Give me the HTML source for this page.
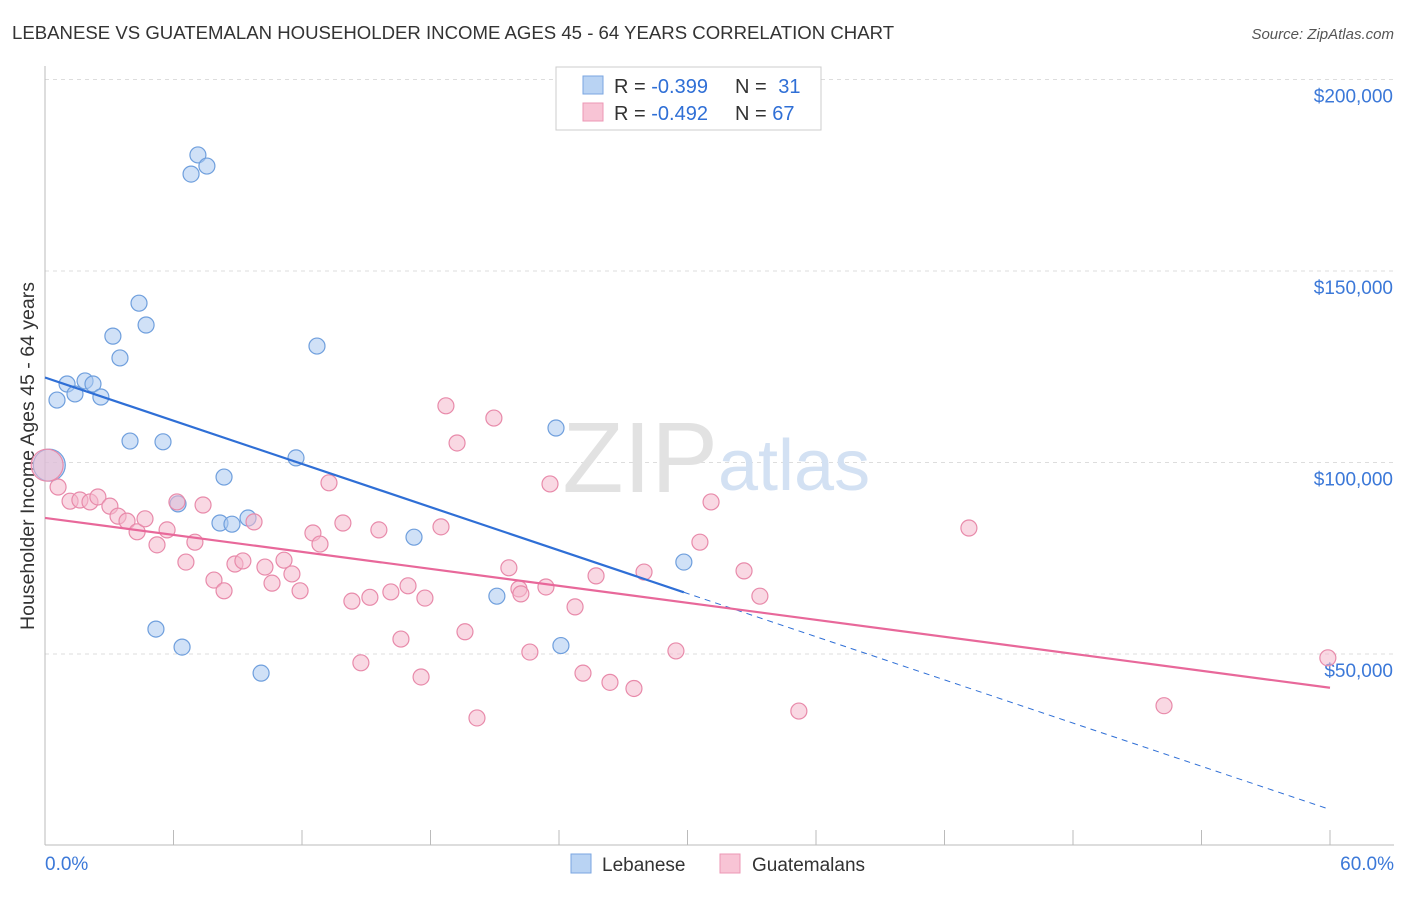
<!DOCTYPE html>
<html><head><meta charset="utf-8"><style>
body{margin:0;background:#fff;font-family:"Liberation Sans",sans-serif;}
svg text{font-family:"Liberation Sans",sans-serif;}
</style></head><body>
<svg id="chart" width="1406" height="892">
<text x="12" y="39" font-size="18.6" fill="#333">LEBANESE VS GUATEMALAN HOUSEHOLDER INCOME AGES 45 - 64 YEARS CORRELATION CHART</text>
<text x="1394" y="39" font-size="15" fill="#555" font-style="italic" text-anchor="end">Source: ZipAtlas.com</text>
<text x="0" y="0" transform="translate(34,456) rotate(-90)" font-size="19.5" fill="#333" text-anchor="middle">Householder Income Ages 45 - 64 years</text>
<g id="grid"></g>
<text x="718" y="492" font-size="100" fill="#e2e2e2" text-anchor="end" font-family="Liberation Serif">ZIP</text>
<text x="718" y="490" font-size="72" fill="#d3e1f3">atlas</text>
<g id="marks"></g>
<rect x="556" y="67" width="265" height="63" fill="#fff" stroke="#ccc"/>
<rect x="583" y="76" width="20" height="18" fill="#b9d3f3" stroke="#7aa6e0"/>
<rect x="583" y="103" width="20" height="18" fill="#f8c4d5" stroke="#ec97b5"/>
<text x="614" y="93" font-size="20" fill="#333">R = <tspan fill="#2f6fd6">-0.399</tspan></text>
<text x="735" y="93" font-size="20" fill="#333">N = <tspan fill="#2f6fd6" dx="6">31</tspan></text>
<text x="614" y="120" font-size="20" fill="#333">R = <tspan fill="#2f6fd6">-0.492</tspan></text>
<text x="735" y="120" font-size="20" fill="#333">N = <tspan fill="#2f6fd6">67</tspan></text>
<rect x="571" y="854" width="20" height="19" fill="#b9d3f3" stroke="#7aa6e0"/>
<text x="602" y="871" font-size="19" fill="#333">Lebanese</text>
<rect x="720" y="854" width="20" height="19" fill="#f8c4d5" stroke="#ec97b5"/>
<text x="752" y="871" font-size="19" fill="#333">Guatemalans</text>
</svg>
<script>
const xTickLabels=["0.0%","60.0%"];
const yTicks=[50000,100000,150000,200000];
const yTickLabels=["$50,000","$100,000","$150,000","$200,000"];
const lebX=[0.2,0.56,1.03,1.40,1.87,2.24,2.61,3.17,3.50,4.39,4.72,3.97,5.51,6.82,7.14,7.56,8.36,6.21,8.17,8.73,9.48,5.18,6.40,10.09,11.72,12.70,17.23,21.10,23.86,24.09,29.83];
const lebY=[99.3,116.3,120.5,117.9,121.3,120.5,117.1,133.0,127.3,141.6,135.9,105.6,105.4,175.3,180.3,177.4,96.2,89.2,84.2,83.9,85.5,56.5,51.8,45.0,101.2,130.4,80.5,65.1,109.0,52.2,74.0];
const guaX=[0.1,0.61,1.17,1.63,2.10,2.47,3.03,3.41,3.83,4.30,4.67,5.23,5.70,6.16,6.58,7.00,7.38,7.89,8.36,8.87,9.24,9.76,10.27,10.60,11.16,11.53,11.91,12.51,12.84,13.26,13.91,14.33,14.75,15.17,15.59,16.15,16.62,16.95,17.56,17.74,18.49,18.72,19.24,19.61,20.17,20.96,21.66,22.13,22.22,22.64,23.39,23.58,24.75,25.12,25.73,26.38,27.50,27.97,29.46,30.58,31.10,32.64,33.38,35.20,43.14,52.25,59.90];
const guaY=[99.3,93.6,89.9,90.2,89.7,91.0,88.6,86.0,84.7,81.9,85.3,78.5,82.4,89.7,74.0,79.2,88.9,69.3,66.5,73.5,74.3,84.5,72.7,68.5,74.5,70.9,66.5,81.6,78.7,94.7,84.2,63.8,47.7,64.8,82.4,66.2,53.9,67.8,44.0,64.6,83.2,114.8,105.1,55.8,33.3,111.6,72.5,67.0,65.7,50.5,67.5,94.4,62.3,45.0,70.4,42.6,41.0,71.4,50.8,79.2,89.7,71.7,65.1,35.1,82.9,36.5,49.0];
const X0=45,X1=1330,Y0=845.5,PPK=191.5/50;
const sx=v=>X0+(v/60)*(X1-X0);
const sy=v=>Y0-v*PPK;
const NS="http://www.w3.org/2000/svg";
function mk(parent,tag,attrs){const e=document.createElementNS(NS,tag);for(const k in attrs)e.setAttribute(k,attrs[k]);parent.appendChild(e);return e;}
const grid=document.getElementById('grid'),marks=document.getElementById('marks');
let e;
e=mk(grid,'line',{x1:45,y1:79.5,x2:1394,y2:79.5,stroke:'#ddd','stroke-dasharray':'4,4'});


yTicks.forEach((t,i)=>{
 const y=sy(t/1000);
 e=mk(grid,'line',{x1:45,y1:y,x2:1394,y2:y,stroke:'#ddd','stroke-dasharray':'4,4'});
 
 
 e=mk(grid,'text',{x:1393,y:y+23,'font-size':19,fill:'#3b78d8','text-anchor':'end'});e.textContent=yTickLabels[i];
 
 
});
e=mk(grid,'line',{x1:45,y1:66,x2:45,y2:845,stroke:'#bbb'});


e=mk(grid,'line',{x1:45,y1:845,x2:1394,y2:845,stroke:'#bbb'});


for(let i=0;i<=10;i++){const x=45+i*128.5;
 e=mk(grid,'line',{x1:x,y1:830,x2:x,y2:845,stroke:'#bbb'});
 
 }
e=mk(grid,'text',{x:45,y:870,'font-size':19,fill:'#3b78d8'});e.textContent=xTickLabels[0];


e=mk(grid,'text',{x:1394,y:870,'font-size':19,fill:'#3b78d8','text-anchor':'end'});e.textContent=xTickLabels[1];


function reg(xs,ys){const n=xs.length;let mx=0,my=0;for(let i=0;i<n;i++){mx+=xs[i];my+=ys[i];}mx/=n;my/=n;let a=0,b=0;for(let i=0;i<n;i++){a+=(xs[i]-mx)*(ys[i]-my);b+=(xs[i]-mx)**2;}const s=a/b;return [my-s*mx,s];}
function pts(xs,ys,fill,stroke,name){xs.forEach((x,i)=>{
 const big=(i===0);
 e=mk(marks,'circle',{cx:sx(x),cy:sy(ys[i]),r:big?16:8,fill:fill,'fill-opacity':0.55,stroke:stroke,'stroke-width':1.2});
 
 });}
pts(lebX,lebY,'#a9c8f0','#6f9fdd','lebanese-point');
pts(guaX,guaY,'#f4b8cc','#e88aaa','guatemalan-point');
const [bi,bs]=reg(lebX,lebY);const bmax=Math.max(...lebX);
e=mk(marks,'line',{x1:sx(0),y1:sy(bi),x2:sx(bmax),y2:sy(bi+bs*bmax),stroke:'#2f6fd6','stroke-width':2.2});


e=mk(marks,'line',{x1:sx(bmax),y1:sy(bi+bs*bmax),x2:sx(60),y2:sy(bi+bs*60),stroke:'#2f6fd6','stroke-width':1,'stroke-dasharray':'6,5'});


const [pi,ps]=reg(guaX,guaY);
e=mk(marks,'line',{x1:sx(0),y1:sy(pi),x2:sx(60),y2:sy(pi+ps*60),stroke:'#e8689a','stroke-width':2.2});


</script>
</body></html>
